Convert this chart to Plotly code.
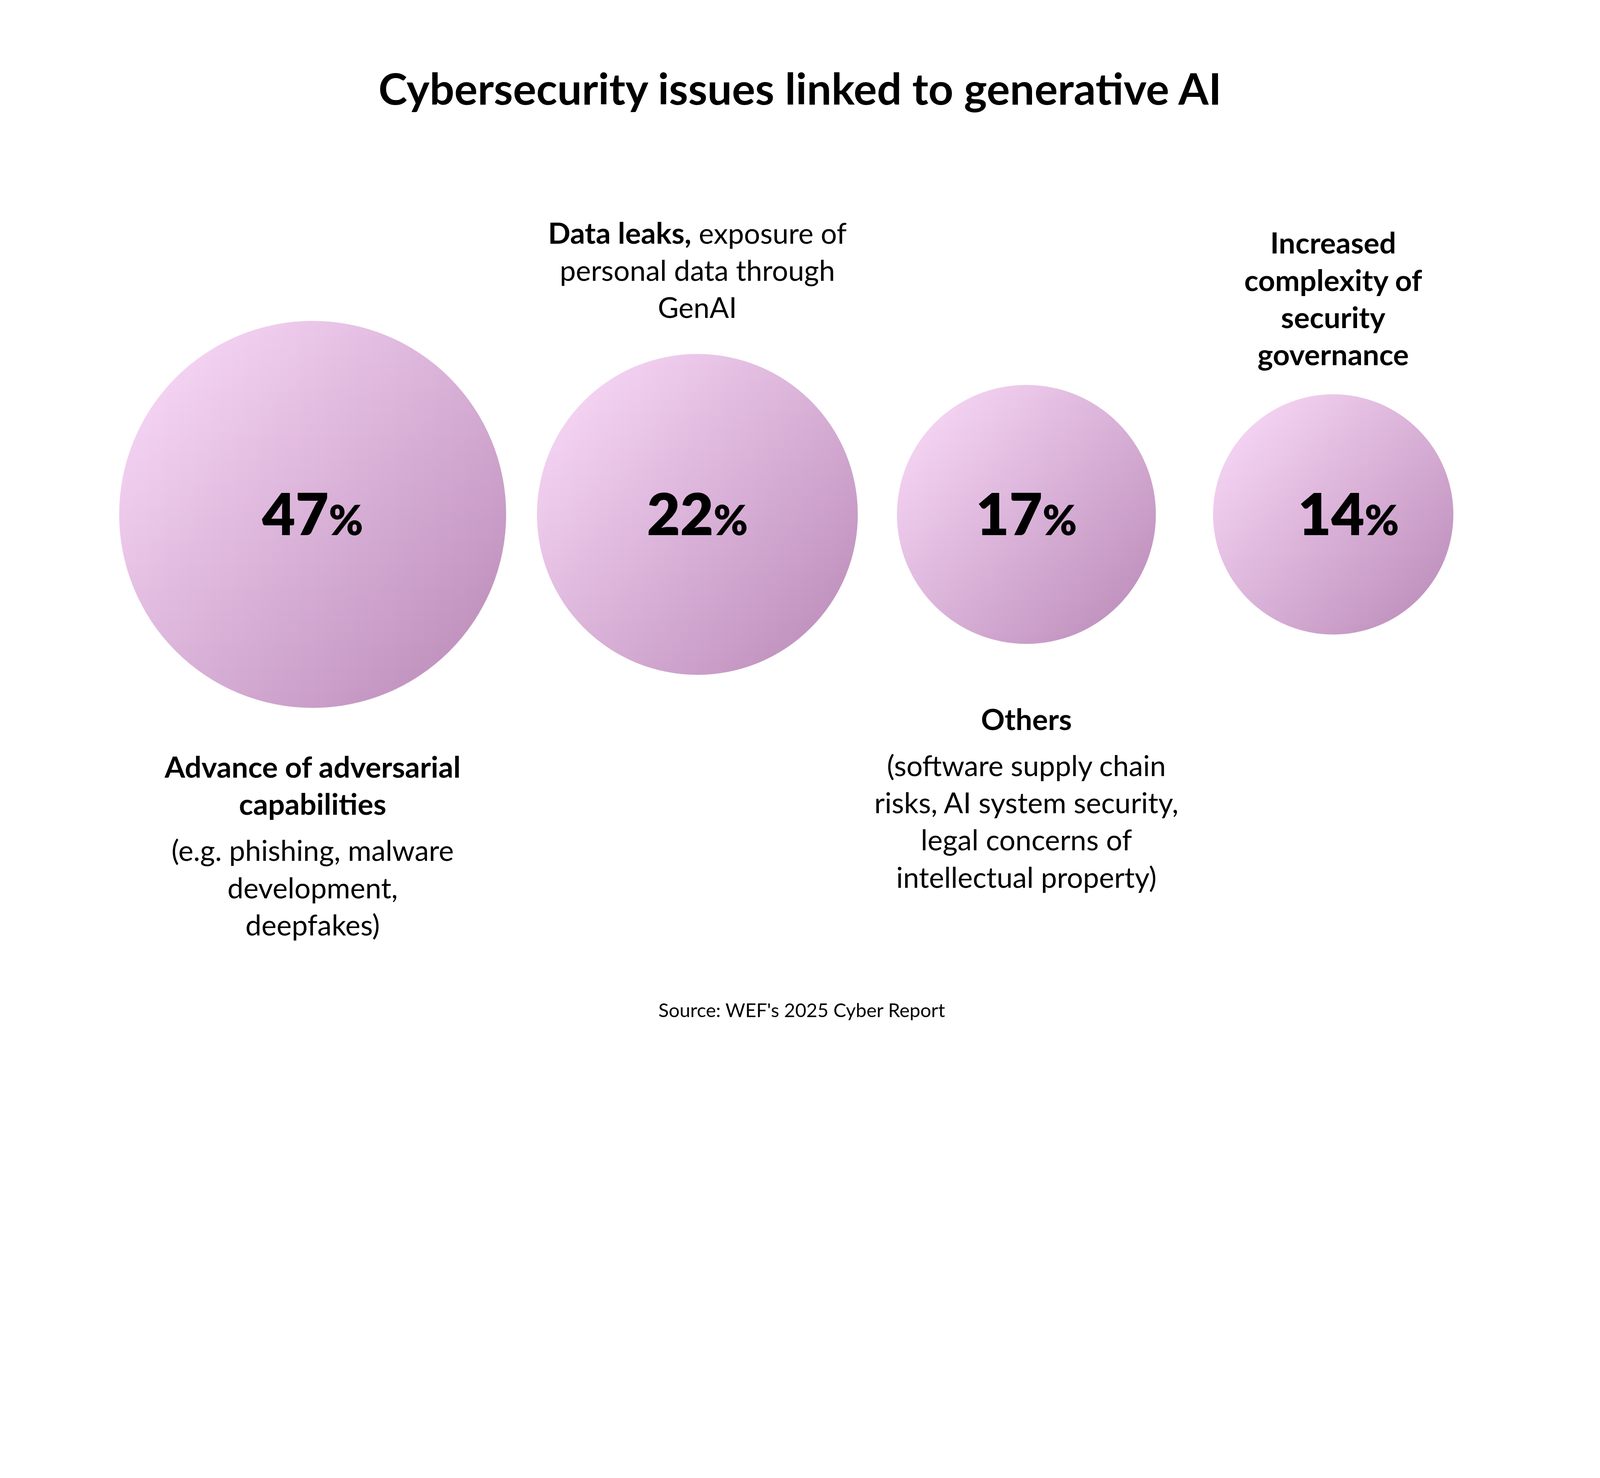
import plotly.graph_objects as go

# ── Data ──────────────────────────────────────────────────────────────────────
CATEGORIES = ["Advance of adversarial capabilities", "Data leaks", "Others",
              "Increased complexity of security governance"]
SHARES = [47, 22, 17, 14]

HEAD_LINES = [
    ["Advance of adversarial", "capabilities"],
    [],
    ["Others"],
    ["Increased", "complexity of", "security", "governance"],
]
BODY_LINES = [
    ["(e.g. phishing, malware", "development,", "deepfakes)"],
    ["<b>Data leaks,</b> exposure of", "personal data through", "GenAI"],
    ["(software supply chain", "risks, AI system security,",
     "legal concerns of", "intellectual property)"],
    [],
]
TITLE = "Cybersecurity issues linked to generative AI"
SOURCE = "Source: WEF's 2025 Cyber Report"

# ── Layout / style (pixels) ───────────────────────────────────────────────────
W, H = 5760, 3784
DIAM = [1393, 1155, 932, 865]        # bubble diameters
GAPS = [111, 141, 206]               # white space between bubbles
LEFT = 429
CY = 1852
FIRST_BASELINE = [2800, 877, 2628, 913]
LINE_GAP, PARA_GAP = 134, 32
NUM_DX = [0, 0, 0, 55]

FONT = "Lato"
LIGHT, DARK = "#fdd7fb", "#a86da6"
TITLE_SIZE, NUM_SIZE, PCT_SIZE, SRC_SIZE = 157, 207, 148, 69
LABEL_SIZE, BOLD_SIZE = 103, 106
TEXT_DY = 0.25                       # plotly puts a middle-text baseline 0.25em below y


def bold(s):
    return s.replace("<b>", f"<b><span style='font-size:{BOLD_SIZE}px'>").replace("</b>", "</span></b>")


# bubble centres, packed left to right
cx, edge = [], LEFT
for i, d in enumerate(DIAM):
    if i:
        edge += GAPS[i - 1]
    cx.append(edge + d / 2)
    edge += d

fig = go.Figure()

# two stacked gradients (horizontal + half-transparent vertical) -> diagonal
for gtype, op in (("horizontal", 1.0), ("vertical", 0.55)):
    fig.add_trace(go.Scatter(
        x=cx, y=[CY] * len(cx), mode="markers", opacity=op,
        marker=dict(size=DIAM, color=LIGHT, line=dict(width=0),
                    gradient=dict(type=gtype, color=DARK)),
        hoverinfo="skip", showlegend=False))

# percentages
fig.add_trace(go.Scatter(
    x=[c + dx for c, dx in zip(cx, NUM_DX)],
    y=[CY + 0.357 * NUM_SIZE - TEXT_DY * NUM_SIZE] * len(cx),
    mode="text",
    text=[f"{v}<span style='font-size:{PCT_SIZE}px'>%</span>" for v in SHARES],
    textposition="middle center",
    textfont=dict(family=FONT, size=NUM_SIZE, color="black", weight=800),
    hoverinfo="skip", showlegend=False))

# category labels, one point per text line
lx, ly, lt = [], [], []
for i in range(len(CATEGORIES)):
    base = FIRST_BASELINE[i]
    for line in HEAD_LINES[i]:
        lx.append(cx[i]); ly.append(base); lt.append(bold(f"<b>{line}</b>"))
        base += LINE_GAP
    if HEAD_LINES[i] and BODY_LINES[i]:
        base += PARA_GAP
    for line in BODY_LINES[i]:
        lx.append(cx[i]); ly.append(base); lt.append(bold(line))
        base += LINE_GAP
fig.add_trace(go.Scatter(
    x=lx, y=[b - TEXT_DY * LABEL_SIZE for b in ly], mode="text", text=lt,
    textposition="middle center",
    textfont=dict(family=FONT, size=LABEL_SIZE, color="black"),
    hoverinfo="skip", showlegend=False))

fig.add_annotation(x=2886, y=3664 + 0.213 * SRC_SIZE, text=SOURCE, showarrow=False,
                   xanchor="center", yanchor="bottom",
                   font=dict(family=FONT, size=SRC_SIZE, color="black"))

fig.update_layout(
    title=dict(text=TITLE, x=0.5, xanchor="center", xref="paper",
               y=1 - 377 / H, yref="container", yanchor="bottom",
               font=dict(family=FONT, size=TITLE_SIZE, color="black", weight="bold")),
    width=W, height=H, margin=dict(l=0, r=0, t=0, b=0),
    plot_bgcolor="white", paper_bgcolor="white",
    xaxis=dict(range=[0, W], visible=False, fixedrange=True),
    yaxis=dict(range=[H, 0], visible=False, fixedrange=True),
)

# the window may be smaller in CSS pixels than the figure: scale it to fit
FIT = f"""
document.body.style.margin = '0';
document.documentElement.style.overflow = 'hidden';
document.body.style.overflow = 'hidden';
var gd = document.getElementById('{{plot_id}}');
var s = Math.min(window.innerWidth / {W}, window.innerHeight / {H});
gd.style.transformOrigin = '0 0';
gd.style.transform = 'scale(' + s + ')';
var box = gd.parentElement;
box.style.width = ({W} * s) + 'px';
box.style.height = ({H} * s) + 'px';
box.style.overflow = 'hidden';
"""

fig.write_html("out.html", config={"displayModeBar": False}, post_script=FIT)
